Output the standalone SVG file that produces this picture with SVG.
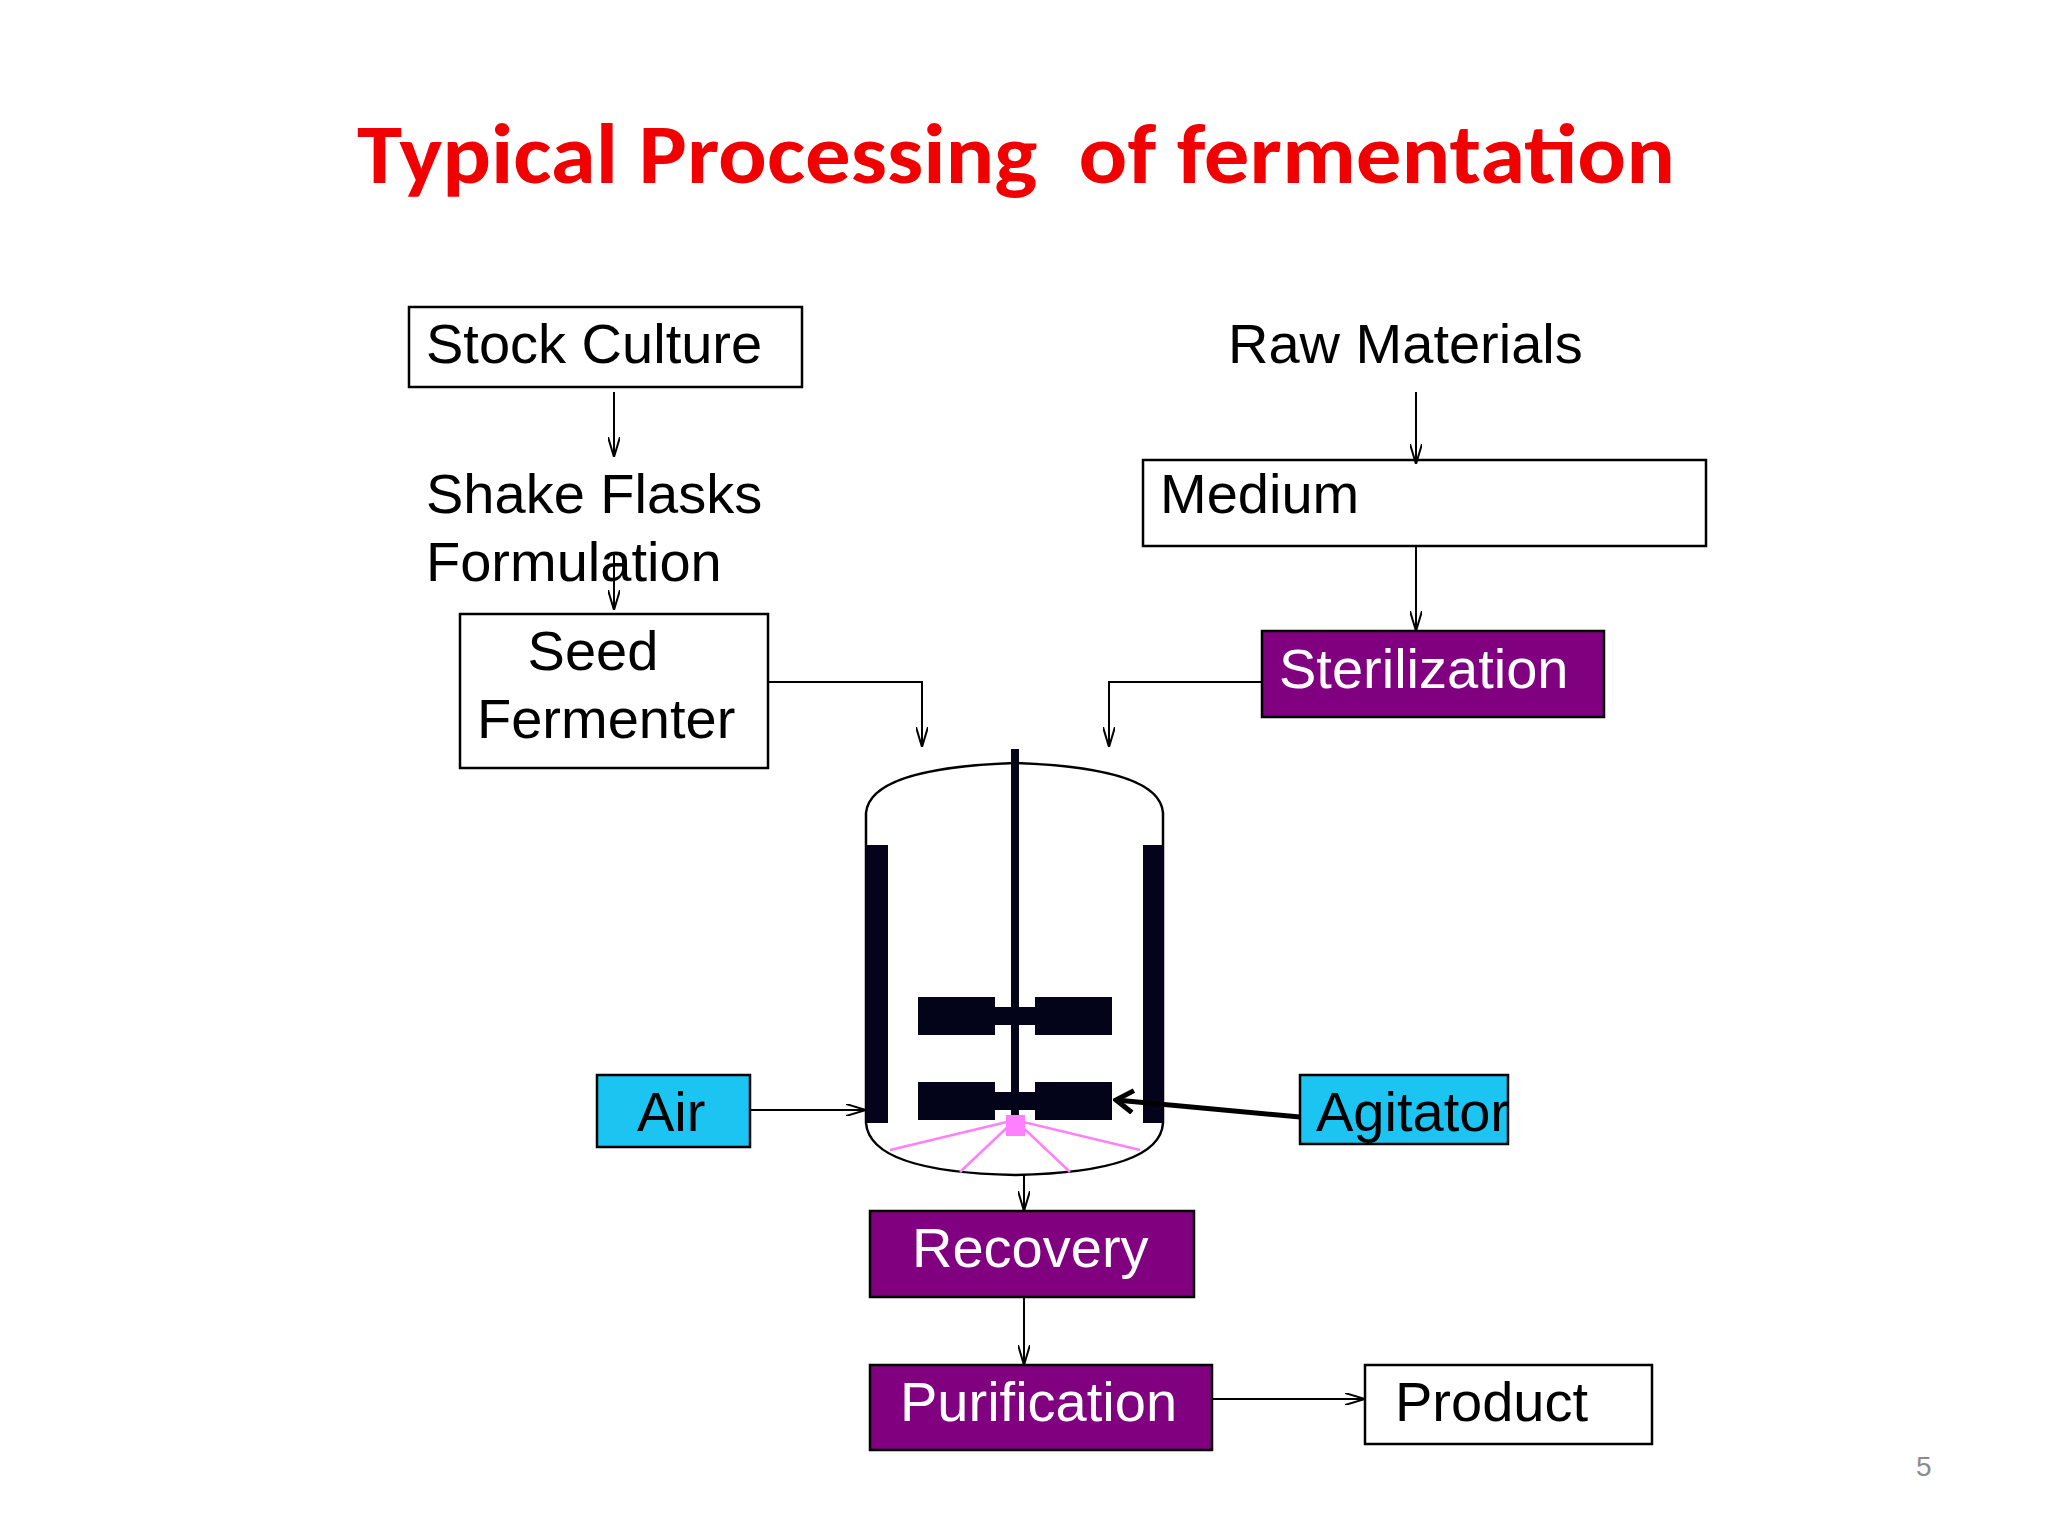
<svg xmlns="http://www.w3.org/2000/svg" width="2048" height="1536" viewBox="0 0 2048 1536">
<defs>
<marker id="ah" viewBox="0 0 20 12" refX="20" refY="6" markerWidth="20" markerHeight="12" markerUnits="userSpaceOnUse" orient="auto"><path d="M0,0 L20,6 L0,12" fill="none" stroke="#000" stroke-width="2"/></marker>
<marker id="ah2" viewBox="0 0 22 26" refX="19" refY="13" markerWidth="22" markerHeight="26" markerUnits="userSpaceOnUse" orient="auto"><path d="M2,2 L19,13 L2,24" fill="none" stroke="#000" stroke-width="5"/></marker>
</defs>
<style>
.t{font-family:"Liberation Sans",Arial,sans-serif;font-size:56px;fill:#000}
.w{fill:#fff}
.box{fill:#fff;stroke:#000;stroke-width:2.5}
.pur{fill:#800080;stroke:#000;stroke-width:2.5}
.cy{fill:#1CC4F2;stroke:#000;stroke-width:2.5}
.ln{fill:none;stroke:#000;stroke-width:2}
.dk{fill:#03031a}
.pk{stroke:#ff80ff;stroke-width:2.5;fill:none}
</style>
<rect width="2048" height="1536" fill="#fff"/>
<text x="1016" y="183" text-anchor="middle" font-family="Carlito,'Liberation Sans',sans-serif" font-weight="bold" font-size="84" fill="#f00000" textLength="1318" lengthAdjust="spacingAndGlyphs" xml:space="preserve">Typical Processing  of fermentation</text>

<g id="stock"><rect class="box" x="409" y="307" width="393" height="80"/><text class="t" x="426" y="363">Stock Culture</text></g>
<g id="shake"><text class="t" x="426" y="513">Shake Flasks</text><text class="t" x="426" y="581">Formulation</text></g>
<g id="seed"><rect class="box" x="460" y="614" width="308" height="154"/><text class="t" x="593" y="670" text-anchor="middle">Seed</text><text class="t" x="477" y="738">Fermenter</text></g>
<g id="raw"><text class="t" x="1228" y="363">Raw Materials</text></g>
<g id="medium"><rect class="box" x="1143" y="460" width="563" height="86"/><text class="t" x="1160" y="513">Medium</text></g>
<g id="steril"><rect class="pur" x="1262" y="631" width="342" height="86"/><text class="t w" x="1279" y="688">Sterilization</text></g>
<g id="air"><rect class="cy" x="597" y="1075" width="153" height="72"/><text class="t" x="637" y="1131">Air</text></g>
<g id="agitator"><rect class="cy" x="1300" y="1075" width="208" height="69"/><text class="t" x="1316" y="1131">Agitator</text></g>
<g id="recovery"><rect class="pur" x="870" y="1211" width="324" height="86"/><text class="t w" x="912" y="1267">Recovery</text></g>
<g id="purification"><rect class="pur" x="870" y="1365" width="342" height="85"/><text class="t w" x="900" y="1421">Purification</text></g>
<g id="product"><rect class="box" x="1365" y="1365" width="287" height="79"/><text class="t" x="1395" y="1421">Product</text></g>

<g id="vessel">
<path d="M866,1123 L866,813 Q870,768 1015,763 Q1160,768 1163,813 L1163,1123 Q1160,1172 1015,1175 Q870,1172 866,1123 Z" fill="#fff" stroke="#000" stroke-width="2.5"/>
<rect class="dk" x="866" y="845" width="22" height="278"/>
<rect class="dk" x="1143" y="845" width="20" height="278"/>
<rect class="dk" x="1011" y="749" width="8" height="367"/>
<rect class="dk" x="918" y="997" width="77" height="38"/><rect class="dk" x="1035" y="997" width="77" height="38"/><rect class="dk" x="945" y="1007" width="140" height="18"/>
<rect class="dk" x="918" y="1082" width="77" height="38"/><rect class="dk" x="1035" y="1082" width="77" height="38"/><rect class="dk" x="945" y="1092" width="140" height="18"/>
<path class="pk" d="M1015,1120 L890,1150 M1015,1120 L960,1172 M1015,1120 L1070,1172 M1015,1120 L1140,1150"/>
<rect x="1006" y="1115" width="19" height="21" fill="#ff80ff"/>
</g>

<g id="connectors">
<path class="ln" d="M614,392 V457" marker-end="url(#ah)"/>
<path class="ln" d="M614,555 V610" marker-end="url(#ah)"/>
<path class="ln" d="M768,682 H922 V747" marker-end="url(#ah)"/>
<path class="ln" d="M1416,392 V464" marker-end="url(#ah)"/>
<path class="ln" d="M1416,546 V631" marker-end="url(#ah)"/>
<path class="ln" d="M1262,682 H1109 V747" marker-end="url(#ah)"/>
<path class="ln" d="M750,1110 H866" marker-end="url(#ah)"/>
<path d="M1300,1117 L1116,1100" stroke="#000" stroke-width="5" fill="none" marker-end="url(#ah2)"/>
<path class="ln" d="M1024,1175 V1211" marker-end="url(#ah)"/>
<path class="ln" d="M1024,1297 V1365" marker-end="url(#ah)"/>
<path class="ln" d="M1212,1399 H1365" marker-end="url(#ah)"/>
</g>
<text x="1916" y="1476" font-family="Liberation Sans,sans-serif" font-size="28" fill="#8c8c8c">5</text>
</svg>
